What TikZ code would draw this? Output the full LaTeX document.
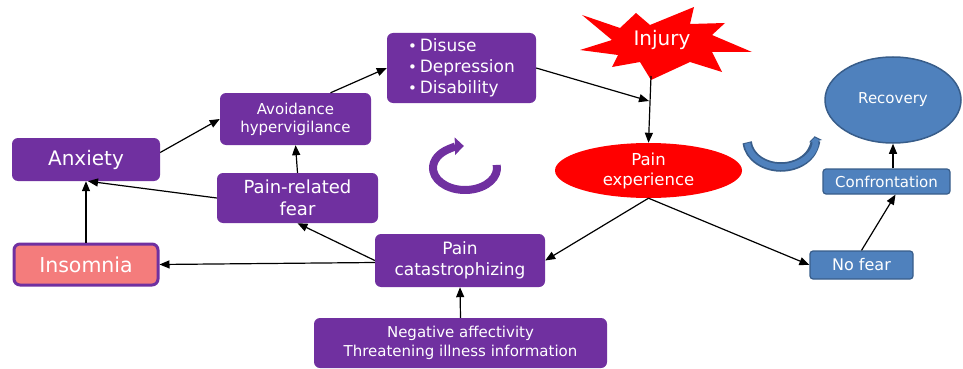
\documentclass[tikz,border=0pt]{standalone}
\usepackage{fontspec}
\setmainfont{DejaVu Sans}
\usetikzlibrary{arrows.meta,shapes.geometric,calc}
\definecolor{pur}{HTML}{7030A0}
\definecolor{salmon}{HTML}{F47C7C}
\definecolor{bl}{HTML}{4F81BD}
\definecolor{dbl}{HTML}{385D8A}
\newcommand{\mybul}{{\fontsize{15}{15}\selectfont•}\,}
\tikzset{
  pbox/.style={rectangle, rounded corners=6pt, fill=pur, text=white, inner sep=0pt, align=center},
  bbox/.style={rectangle, rounded corners=3pt, fill=bl, draw=dbl, line width=1.2pt, text=white, inner sep=0pt, align=center},
  conn/.style={line width=1.2pt, -{Triangle[length=10pt,width=8pt]}},
}
\begin{document}
\begin{tikzpicture}[x=1pt,y=-1pt]
\useasboundingbox (0,0) rectangle (963,369);
% purple boxes
\node[pbox, minimum width=148pt, minimum height=43pt, font=\fontsize{20}{22}\selectfont] (anx) at (86,159.5) {Anxiety};
\node[rectangle, rounded corners=6pt, fill=salmon, draw=pur, line width=3pt, text=white, inner sep=0pt, minimum width=144pt, minimum height=41pt, font=\fontsize{20.5}{22}\selectfont] (ins) at (86,264.5) {Insomnia};
\node[pbox, minimum width=151pt, minimum height=52pt, font=\fontsize{15}{18}\selectfont] (avo) at (295.5,119) {Avoidance\\hypervigilance};
\node[pbox, minimum width=161pt, minimum height=50pt, font=\fontsize{18}{22}\selectfont] (prf) at (297.5,198) {Pain-related\\fear};
\node[pbox, minimum width=149pt, minimum height=70pt, font=\fontsize{17}{21}\selectfont, align=left] (dis) at (461.5,68) {\mybul Disuse\\\mybul Depression\\\mybul Disability};
\node[pbox, minimum width=170pt, minimum height=53pt, font=\fontsize{17}{21}\selectfont] (cat) at (460,260.5) {Pain\\catastrophizing};
\node[pbox, minimum width=293pt, minimum height=50pt, font=\fontsize{15}{19}\selectfont] (neg) at (460.5,343) {Negative affectivity\\Threatening illness information};
% injury star
\fill[red] (582,15) -- (620,28) -- (636,13) -- (650,25) -- (694,7) -- (690,24) -- (725,23) -- (712,35) -- (752,52) -- (712,52) -- (722,72) -- (690,62) -- (651,80) -- (640,62) -- (612,67) -- (618,55) -- (580,50) -- (612,40) -- cycle;
\node[text=white, font=\fontsize{20}{22}\selectfont, inner sep=0pt] (inj) at (662,40) {Injury};
\coordinate (injb) at (651,76);
% pain experience
\node[ellipse, fill=red, text=white, inner sep=0pt, minimum width=187pt, minimum height=55pt, align=center, font=\fontsize{16.5}{20}\selectfont] (pe) at (648.5,170.5) {Pain\\experience};
% blue side
\node[ellipse, fill=bl, draw=dbl, line width=1.5pt, text=white, inner sep=0pt, minimum width=136pt, minimum height=86pt, font=\fontsize{15}{18}\selectfont] (rec) at (893,100) {Recovery};
\node[bbox, minimum width=127pt, minimum height=25pt, font=\fontsize{15}{18}\selectfont] (conf) at (886.5,181.5) {Confrontation};
\node[bbox, minimum width=103pt, minimum height=28pt, font=\fontsize{16}{18}\selectfont] (nf) at (861.5,265) {No fear};
% cycle arrows
\draw[pur, line width=8pt, -{Triangle[length=9pt,width=17pt]}] (465,168) ++(-8:32 and 22) arc[start angle=-8, end angle=268, x radius=32, y radius=22];
\draw[dbl, line width=9.5pt, -{Triangle[length=5pt,width=13pt]}] (781,140) ++(175:34 and 27) arc[start angle=175, end angle=-8, x radius=34, y radius=27];
\draw[bl, line width=6pt, -{Triangle[length=3.5pt,width=9pt]}, shorten >=1pt] (781,140) ++(173:34 and 27) arc[start angle=173, end angle=-7, x radius=34, y radius=27];
% connectors
\coordinate (jn) at (649,101);
\draw[conn] ([yshift=7pt]anx.east) -- (avo.west);
\draw[conn] ([xshift=35pt]avo.north) -- (dis.west);
\draw[conn] (dis.east) -- (jn);
\draw[conn] (injb) -- (pe.north);
\draw[conn] (pe.south) -- (cat.east);
\draw[conn] (pe.south) -- (nf.west);
\draw[conn] (cat.west) -- (prf.south);
\draw[conn] ([yshift=-2pt]cat.west) -- (ins.east);
\draw[conn] (prf.west) -- ([xshift=2pt]anx.south);
\draw[conn] (ins.north) -- (anx.south);
\draw[conn] (prf.north) -- (avo.south);
\draw[conn] (neg.north) -- (cat.south);
\draw[conn] (nf.north) -- ([xshift=9pt]conf.south);
\draw[conn] (conf.north -| rec.south) -- (rec.south);
\end{tikzpicture}
\end{document}
